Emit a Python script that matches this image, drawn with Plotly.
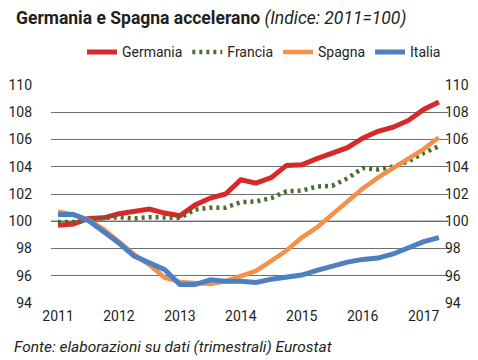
import plotly.graph_objects as go

quarters = list(range(26))  # 2011Q1 .. 2017Q2
year_ticks = [0, 4, 8, 12, 16, 20, 24]
year_labels = ["2011", "2012", "2013", "2014", "2015", "2016", "2017"]

germania = [99.7, 99.8, 100.2, 100.25, 100.55, 100.7, 100.9, 100.6, 100.4, 101.2,
            101.7, 102.0, 103.05, 102.8, 103.2, 104.1, 104.15, 104.6, 105.0, 105.4,
            106.1, 106.6, 106.9, 107.4, 108.2, 108.75]
francia = [99.95, 99.95, 100.1, 100.25, 100.3, 100.2, 100.3, 100.25, 100.25, 100.85,
           101.0, 101.0, 101.4, 101.45, 101.7, 102.2, 102.25, 102.55, 102.6, 103.15,
           103.9, 103.8, 104.0, 104.4, 105.0, 105.5]
spagna = [100.7, 100.5, 100.1, 99.4, 98.5, 97.55, 96.8, 95.85, 95.55, 95.5,
          95.4, 95.6, 96.0, 96.35, 97.1, 97.85, 98.8, 99.55, 100.5, 101.45,
          102.4, 103.2, 103.9, 104.6, 105.3, 106.15]
italia = [100.5, 100.5, 100.05, 99.25, 98.4, 97.45, 96.95, 96.45, 95.35, 95.35,
          95.7, 95.6, 95.6, 95.5, 95.75, 95.9, 96.05, 96.4, 96.7, 97.0,
          97.2, 97.3, 97.6, 98.1, 98.5, 98.8]

y_ticks = [94, 96, 98, 100, 102, 104, 106, 108, 110]

FONT = "Roboto, Liberation Sans, sans-serif"
TXT = "#231f20"

fig = go.Figure()
fig.add_trace(go.Scatter(x=quarters, y=germania, name="Germania", mode="lines",
                         line=dict(color="#d7282a", width=5)))
fig.add_trace(go.Scatter(x=quarters, y=francia, name="Francia", mode="lines",
                         line=dict(color="#4b6e2e", width=4.5, dash="3px,4px")))
fig.add_trace(go.Scatter(x=quarters, y=spagna, name="Spagna", mode="lines",
                         line=dict(color="#f5904a", width=4.5)))
fig.add_trace(go.Scatter(x=quarters, y=italia, name="Italia", mode="lines",
                         line=dict(color="#4e80c1", width=5)))
# invisible trace for right axis
fig.add_trace(go.Scatter(x=quarters, y=italia, yaxis="y2", mode="lines",
                         line=dict(width=0), showlegend=False, hoverinfo="skip", opacity=0))

fig.update_layout(
    width=478, height=360,
    margin=dict(l=43, r=38, t=77, b=65),
    paper_bgcolor="white", plot_bgcolor="white",
    font=dict(family=FONT, size=14, color=TXT),
    xaxis=dict(range=[-0.46, 25.6], tickvals=year_ticks, ticktext=year_labels,
               showgrid=False, zeroline=False, showline=False, ticks="",
               automargin=False,
               ticklabelstandoff=3, tickfont=dict(size=14, color=TXT)),
    yaxis=dict(range=[94, 110], tickvals=y_ticks, showgrid=True, gridcolor="#6d6e71",
               gridwidth=1, zeroline=False, showline=False, ticks="",
               automargin=False,
               ticklabelstandoff=18, tickfont=dict(size=14, color=TXT)),
    yaxis2=dict(range=[94, 110], tickvals=y_ticks, overlaying="y", side="right",
                showgrid=False, zeroline=False, showline=False, ticks="",
                automargin=False,
                ticklabelstandoff=-4, tickfont=dict(size=14, color=TXT)),
    legend=dict(orientation="h", x=0.078, y=1.15, xanchor="left", yanchor="middle",
                font=dict(size=14, color=TXT), bgcolor="rgba(0,0,0,0)",
                itemwidth=30, tracegroupgap=0),
    showlegend=True,
    shapes=[dict(type="line", xref="paper", yref="y", x0=0, x1=1, y0=100, y1=100,
                 line=dict(color="black", width=1.2), layer="below")],
    annotations=[
        dict(xref="paper", yref="paper", x=-0.093, y=1.305, xanchor="left", yanchor="middle",
             showarrow=False,
             text="<b>Germania e Spagna accelerano</b> <i>(Indice: 2011=100)</i>",
             font=dict(size=17.5, color=TXT)),
        dict(xref="paper", yref="paper", x=-0.098, y=-0.20, xanchor="left", yanchor="middle",
             showarrow=False,
             text="<i>Fonte: elaborazioni su dati (trimestrali) Eurostat</i>",
             font=dict(size=15.5, color=TXT)),
    ],
)

fig.write_html("out.html")
